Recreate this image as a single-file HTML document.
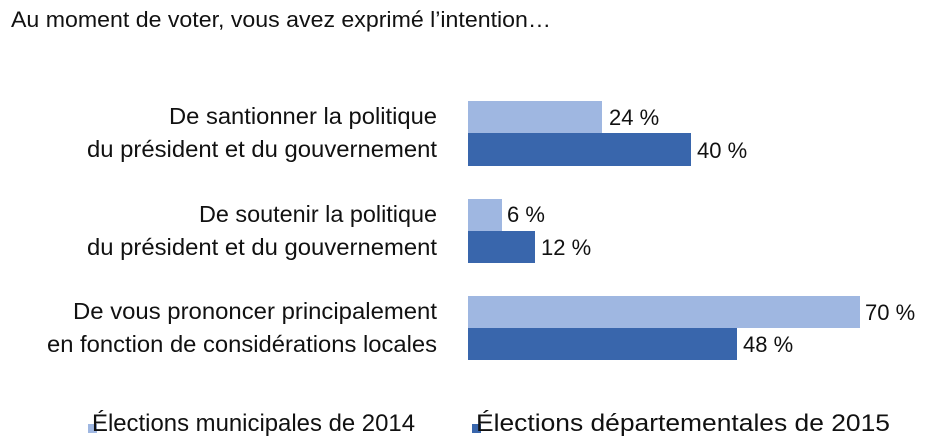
<!DOCTYPE html>
<html><head><style>body{margin:0;background:#fff}svg{display:block}text{font-family:"Liberation Sans",sans-serif;fill:#111}</style></head>
<body>
<svg width="938" height="445" viewBox="0 0 938 445">
<text x="11" y="27" font-size="22" textLength="540" lengthAdjust="spacingAndGlyphs">Au moment de voter, vous avez exprimé l’intention…</text>
<g font-size="23" text-anchor="end">
<text x="437" y="124" textLength="268" lengthAdjust="spacingAndGlyphs">De santionner la politique</text>
<text x="437" y="157" textLength="350" lengthAdjust="spacingAndGlyphs">du président et du gouvernement</text>
<text x="437" y="222" textLength="238" lengthAdjust="spacingAndGlyphs">De soutenir la politique</text>
<text x="437" y="255" textLength="350" lengthAdjust="spacingAndGlyphs">du président et du gouvernement</text>
<text x="437" y="319" textLength="364" lengthAdjust="spacingAndGlyphs">De vous prononcer principalement</text>
<text x="437" y="352" textLength="390" lengthAdjust="spacingAndGlyphs">en fonction de considérations locales</text>
</g>
<g fill="#9fb7e1">
<rect x="468" y="101" width="134" height="32"/>
<rect x="468" y="199" width="34" height="32"/>
<rect x="468" y="296" width="392" height="32"/>
</g>
<g fill="#3966ac">
<rect x="468" y="133" width="223" height="33"/>
<rect x="468" y="231" width="67" height="32"/>
<rect x="468" y="328" width="269" height="32"/>
</g>
<g font-size="22">
<text x="609" y="125">24 %</text>
<text x="697" y="158">40 %</text>
<text x="507" y="222">6 %</text>
<text x="541" y="255">12 %</text>
<text x="865" y="320">70 %</text>
<text x="743" y="352">48 %</text>
</g>
<rect x="88" y="424" width="9" height="9" fill="#9fb7e1"/>
<text x="92" y="431" font-size="24" textLength="323" lengthAdjust="spacingAndGlyphs">Élections municipales de 2014</text>
<rect x="472" y="424" width="9" height="9" fill="#3966ac"/>
<text x="476" y="431" font-size="24" textLength="414" lengthAdjust="spacingAndGlyphs">Élections départementales de 2015</text>
</svg>
</body></html>
